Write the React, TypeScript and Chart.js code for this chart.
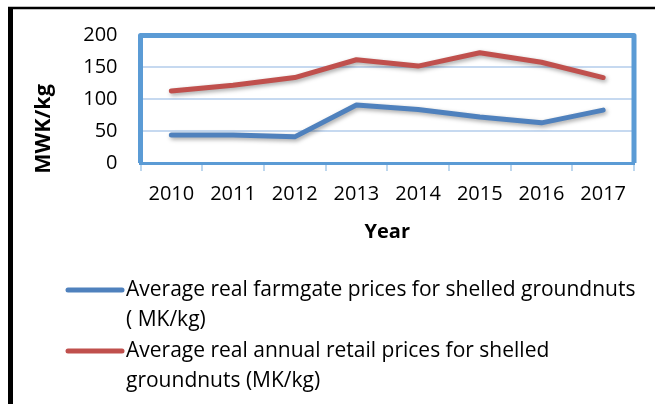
import React, { useEffect, useRef } from "react";
import { Chart, registerables } from "chart.js";

Chart.register(...registerables);

const years = ["2010", "2011", "2012", "2013", "2014", "2015", "2016", "2017"];
const farmgatePrices = [44, 44, 41, 91, 84, 72, 63, 83];
const retailPrices = [113, 122, 134, 162, 152, 173, 158, 134];
const farmgateLabel = ["Average real farmgate prices for shelled groundnuts", "( MK/kg)"];
const retailLabel = ["Average real annual retail prices for shelled", "groundnuts (MK/kg)"];
const yTicks = [0, 50, 100, 150, 200];
const yTitle = "MWK/kg";
const xTitle = "Year";

const FONT = "'Open Sans', Lato, sans-serif";
const BLUE = "#4f81bd";
const RED = "#c0504d";
const BOX = "#5b9bd5";

const framePlugin = {
  id: "frame",
  beforeDraw(chart: any) {
    const ctx = chart.ctx;
    ctx.save();
    ctx.fillStyle = "#ffffff";
    ctx.fillRect(0, 0, chart.width, chart.height);
    ctx.strokeStyle = "#000000";
    ctx.lineWidth = 2.5;
    ctx.beginPath();
    ctx.moveTo(8, 8);
    ctx.lineTo(chart.width, 8);
    ctx.stroke();
    ctx.lineWidth = 5;
    ctx.beginPath();
    ctx.moveTo(10.5, 7);
    ctx.lineTo(10.5, chart.height);
    ctx.stroke();
    ctx.restore();
  },
  afterDatasetsDraw(chart: any) {
    const { ctx, chartArea } = chart;
    ctx.save();
    ctx.strokeStyle = BOX;
    ctx.lineWidth = 5;
    ctx.lineJoin = "round";
    ctx.beginPath();
    ctx.moveTo(chartArea.left, chartArea.bottom);
    ctx.lineTo(chartArea.left, chartArea.top);
    ctx.lineTo(chartArea.right, chartArea.top);
    ctx.lineTo(chartArea.right, chartArea.bottom);
    ctx.stroke();
    ctx.restore();
  },
  afterDraw(chart: any) {
    const ctx = chart.ctx;
    ctx.save();
    // y title
    ctx.fillStyle = "#000";
    ctx.font = `bold 21.5px ${FONT}`;
    ctx.textAlign = "center";
    ctx.textBaseline = "middle";
    ctx.translate(44, 129);
    ctx.rotate(-Math.PI / 2);
    ctx.fillText(yTitle, 0, 0);
    ctx.restore();

    // legend
    ctx.save();
    const lineH = 30.5;
    let y = 290;
    chart.data.datasets.forEach((ds: any) => {
      ctx.strokeStyle = ds.borderColor;
      ctx.lineWidth = 5;
      ctx.lineCap = "round";
      ctx.beginPath();
      ctx.moveTo(68, y);
      ctx.lineTo(122, y);
      ctx.stroke();
      ctx.fillStyle = "#000";
      ctx.font = `21px ${FONT}`;
      ctx.textAlign = "left";
      ctx.textBaseline = "middle";
      (ds.label as string[]).forEach((line: string, i: number) => {
        ctx.fillText(line, 126, y + i * lineH);
      });
      y += lineH * 2;
    });
    ctx.restore();
  },
  beforeDatasetDraw(chart: any) {
    const ctx = chart.ctx;
    ctx.save();
    ctx.shadowColor = "rgba(0,0,0,0.35)";
    ctx.shadowBlur = 4;
    ctx.shadowOffsetX = 1.5;
    ctx.shadowOffsetY = 2;
  },
  afterDatasetDraw(chart: any) {
    chart.ctx.restore();
  },
};

export default function App() {
  const ref = useRef<HTMLCanvasElement | null>(null);
  useEffect(() => {
    if (!ref.current) return;
    const chart = new Chart(ref.current, {
      type: "line",
      data: {
        labels: years,
        datasets: [
          {
            label: farmgateLabel as any,
            data: farmgatePrices,
            borderColor: BLUE,
            backgroundColor: BLUE,
            borderWidth: 5,
            pointRadius: 0,
            borderCapStyle: "round",
            borderJoinStyle: "round",
            tension: 0,
          },
          {
            label: retailLabel as any,
            data: retailPrices,
            borderColor: RED,
            backgroundColor: RED,
            borderWidth: 5,
            pointRadius: 0,
            borderCapStyle: "round",
            borderJoinStyle: "round",
            tension: 0,
          },
        ],
      },
      options: {
        animation: false,
        responsive: false,
        maintainAspectRatio: false,
        layout: { padding: { left: 0, top: 35.5, right: 21, bottom: 160 } },
        plugins: { legend: { display: false }, tooltip: { enabled: false } },
        scales: {
          x: {
            offset: true,
            afterFit: (s: any) => {
              s.height = 81;
            },
            grid: {
              offset: true,
              drawOnChartArea: false,
              drawTicks: true,
              tickLength: 8,
              color: "#bdd7ee",
              lineWidth: 2,
            },
            border: { color: BOX, width: 3 },
            ticks: {
              color: "#000",
              font: { family: FONT, size: 20 },
              padding: 11,
              maxRotation: 0,
              autoSkip: false,
            },
            title: {
              display: true,
              text: xTitle,
              color: "#000",
              font: { family: FONT, size: 20, weight: "bold" },
              padding: 0,
            },
          },
          y: {
            min: yTicks[0],
            max: yTicks[yTicks.length - 1],
            afterFit: (s: any) => {
              s.width = 140.5;
            },
            afterBuildTicks: (s: any) => {
              s.ticks = yTicks.map((v) => ({ value: v }));
            },
            grid: {
              drawTicks: false,
              color: "#c6d9f0",
              lineWidth: 2,
            },
            border: { display: false },
            ticks: {
              color: "#000",
              font: { family: FONT, size: 20 },
              padding: 23,
            },
          },
        },
      },
      plugins: [framePlugin],
    });
    return () => chart.destroy();
  }, []);
  return (
    <div style={{ position: "absolute", left: 0, top: 0, width: 655, height: 404 }}>
      <canvas ref={ref} width={655} height={404} style={{ width: 655, height: 404, display: "block" }} />
    </div>
  );
}
